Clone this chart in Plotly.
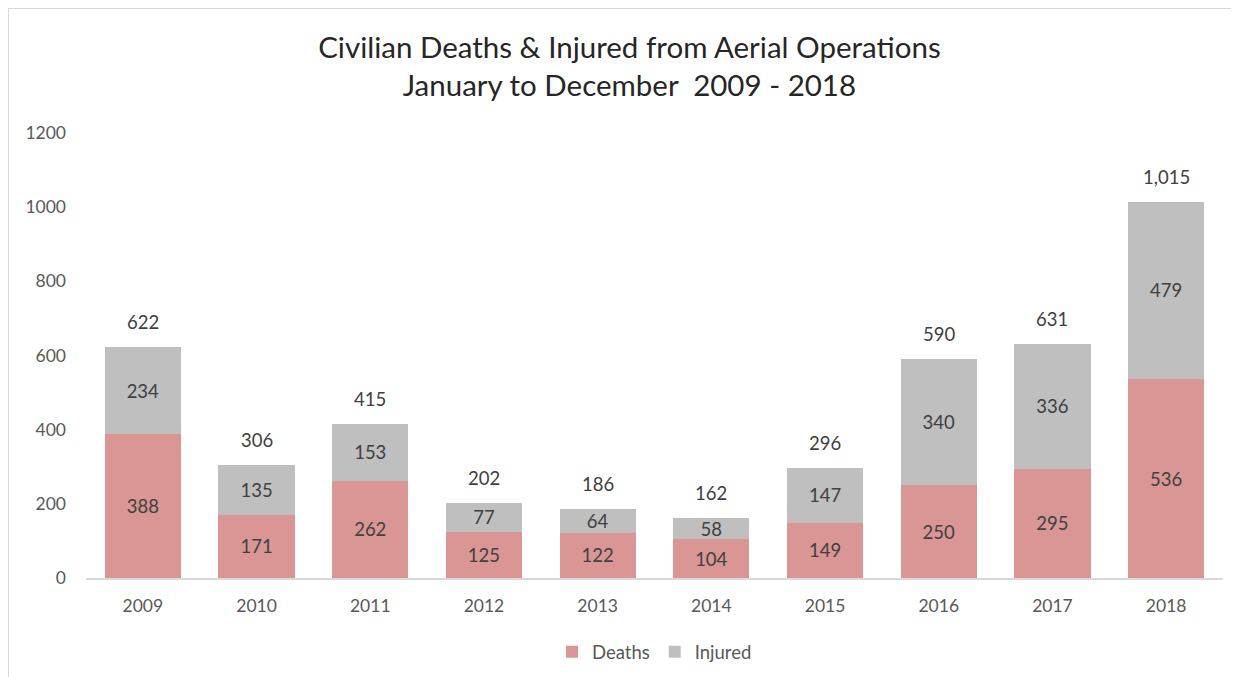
import plotly.graph_objects as go

years = ["2009", "2010", "2011", "2012", "2013", "2014", "2015", "2016", "2017", "2018"]
deaths = [388, 171, 262, 125, 122, 104, 149, 250, 295, 536]
injured = [234, 135, 153, 77, 64, 58, 147, 340, 336, 479]
totals = [d + i for d, i in zip(deaths, injured)]

FONT = "Lato"
# page body adds an 8px offset, so the figure is made 8px smaller
W, H = 1231, 669
ML, MR, MT, MB = 78, 16, 125, 99

fig = go.Figure()
fig.add_trace(go.Bar(
    x=years, y=deaths, name="Deaths",
    marker=dict(color="#D99694", line_width=0),
    text=deaths, textposition="inside", insidetextanchor="middle",
    textangle=0, constraintext="none",
    textfont=dict(color="#404040", size=18.5, family=FONT),
))
fig.add_trace(go.Bar(
    x=years, y=injured, name="Injured",
    marker=dict(color="#BFBFBF", line_width=0),
    text=injured, textposition="inside", insidetextanchor="middle",
    textangle=0, constraintext="none",
    textfont=dict(color="#404040", size=18.5, family=FONT),
))

# totals above each stack (category axis: position by index)
for i, t in enumerate(totals):
    fig.add_annotation(x=i, y=t, xref="x", yref="y", text=f"{t:,}", showarrow=False,
                       yshift=25, font=dict(color="#404040", size=18.5, family=FONT))

# chart frame: top and left edges of the figure
pw, ph = W - ML - MR, H - MT - MB
def px_x(p): return (p - ML) / pw
def px_y(p): return (H - MB - p) / ph
frame = dict(type="line", xref="paper", yref="paper", line=dict(color="#D9D9D9", width=2))
fig.add_shape(**frame, x0=px_x(0), x1=px_x(W + 5), y0=px_y(0), y1=px_y(0))
fig.add_shape(**frame, x0=px_x(0), x1=px_x(0), y0=px_y(0), y1=px_y(H + 5))

fig.update_layout(
    barmode="stack", bargap=0.33,
    width=W, height=H,
    margin=dict(l=ML, r=MR, t=MT, b=MB, autoexpand=False),
    plot_bgcolor="white", paper_bgcolor="white",
    font=dict(family=FONT, color="#595959", size=16),
    title=dict(text="Civilian Deaths & Injured from Aerial Operations<br>January to December  2009 - 2018",
               x=0.5048, xanchor="center", y=0.926, yanchor="top",
               font=dict(size=29.5, color="#262626", family=FONT)),
    legend=dict(orientation="h", x=0.5, xanchor="center", y=-0.124, yanchor="top",
                font=dict(size=18.5, color="#595959"), traceorder="normal"),
    uniformtext=dict(mode=False),
)
fig.update_xaxes(type="category", showline=True, linecolor="#D9D9D9", linewidth=2, ticks="",
                 ticklabelstandoff=11, tickfont=dict(size=17.5), automargin=False)
fig.update_yaxes(range=[0, 1200], dtick=200, showgrid=False, zeroline=False,
                 showline=False, ticklabelstandoff=19, tickfont=dict(size=17.5), automargin=False)

fig.write_html("out.html")
